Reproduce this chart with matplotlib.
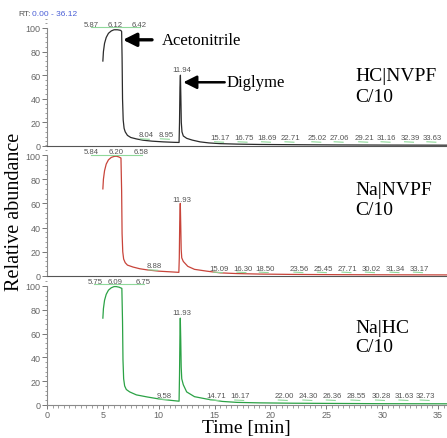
import matplotlib
matplotlib.use("Agg")
import matplotlib.pyplot as plt
from matplotlib.ticker import MultipleLocator

# ---- chromatogram traces (time in min, relative abundance in %) ----
top_t = [5.0, 5.05, 5.15, 5.3, 5.5, 5.75, 6.0, 6.3, 6.6, 6.68, 6.72, 6.76, 6.82, 6.9, 7.0, 7.2, 7.5, 8.0,
         8.6, 9.4, 10.4, 11.4, 11.82, 11.86, 11.9, 11.94, 11.98, 12.02, 12.08, 12.2, 12.5, 13.0, 13.7,
         14.5, 15.5, 17.0, 19.0, 22.0, 26.0, 30.0, 36.0]
top_y = [72, 80, 87, 92, 95.5, 97.5, 98.5, 98.5, 98, 97, 75, 40, 22, 15, 12, 9, 7.2, 6.0,
         4.9, 4.1, 3.5, 3.1, 3.0, 20, 50, 60, 42, 20, 12, 8.5, 6.5, 5.0, 3.5,
         2.6, 2.0, 1.6, 1.3, 1.1, 0.9, 0.8, 0.7]

mid_t = [5.0, 5.05, 5.15, 5.3, 5.5, 5.75, 6.0, 6.2, 6.4, 6.62, 6.68, 6.72, 6.78, 6.86, 7.0, 7.2, 7.7, 8.3,
         9.0, 10.0, 11.3, 11.8, 11.84, 11.88, 11.93, 11.97, 12.01, 12.06, 12.2, 12.6, 13.2, 14.3,
         15.5, 17.0, 19.0, 22.0, 26.0, 30.0, 36.0]
mid_y = [72, 80, 87, 92.5, 96, 98, 98.8, 99, 98.5, 97.5, 70, 35, 20, 14, 11, 9, 7.4, 6.0,
         5.0, 4.0, 3.3, 3.0, 15, 45, 60, 42, 22, 15, 12, 8, 5.5, 4.0,
         2.6, 2.0, 1.6, 1.3, 1.1, 1.0, 0.9]

bot_t = [5.0, 5.05, 5.15, 5.3, 5.5, 5.75, 6.0, 6.2, 6.45, 6.7, 6.76, 6.8, 6.86, 6.95, 7.1, 7.4, 8.0,
         9.0, 10.2, 11.6, 11.82, 11.86, 11.9, 11.93, 11.97, 12.01, 12.06, 12.2, 12.5, 13.2, 14.3,
         15.7, 17.0, 19.0, 22.0, 26.0, 30.0, 36.0]
bot_y = [73, 81, 88, 93, 96.5, 98.5, 99.5, 99.5, 99, 98, 70, 38, 22, 16, 13, 11, 8.5,
         6.7, 4.8, 3.4, 3.2, 25, 60, 73, 55, 32, 22, 17, 11, 7, 5.0,
         3.0, 2.2, 1.8, 1.5, 1.3, 1.1, 1.0]

# ---- peak labels (retention times) and where they are printed ----
top_hi = ["5.87", "6.12", "6.42"]
top_hi_x = [4.0, 6.1, 8.25]
top_lo = ["8.04", "8.95", "15.17", "16.75", "18.69", "22.71", "25.02", "27.06", "29.21", "31.16", "32.39", "33.63"]
top_lo_x = [8.85, 10.65, 15.5, 17.6, 19.7, 21.8, 24.2, 26.2, 28.4, 30.4, 32.5, 34.5]
top_lo_y = [9.5, 9.5, 7, 7, 7, 7, 7, 7, 7, 7, 7, 7]

mid_hi = ["5.84", "6.20", "6.58"]
mid_hi_x = [4.0, 6.2, 8.4]
mid_lo = ["8.88", "15.09", "16.30", "18.50", "23.56", "25.45", "27.71", "30.02", "31.34", "33.17"]
mid_lo_x = [9.6, 15.4, 17.5, 19.5, 22.6, 24.7, 26.9, 29.0, 31.2, 33.3]
mid_lo_y = [8.5, 6.6, 6.6, 6.6, 6.6, 6.6, 6.6, 6.6, 6.6, 6.6]

bot_hi = ["5.75", "6.09", "6.75"]
bot_hi_x = [4.3, 6.1, 8.6]
bot_lo = ["9.58", "14.71", "16.17", "22.00", "24.30", "26.36", "28.55", "30.28", "31.63", "32.73"]
bot_lo_x = [10.5, 15.1, 17.3, 21.2, 23.4, 25.5, 27.7, 29.9, 32.0, 33.9]
bot_lo_y = [8.4, 7.6, 7.6, 7.6, 7.6, 7.6, 7.6, 7.6, 7.6, 7.6]

spike_lab = ["11.94", "11.93", "11.93"]
spike_lab_y = [65, 63, 78]

samples = [("HC|NVPF", "C/10"), ("Na|NVPF", "C/10"), ("Na|HC", "C/10")]
sample_y = [(56, 38), (68, 51), (61, 45)]

colors = ["#2b2b2b", "#c8443a", "#2ba245"]
W, H = 447, 439

plt.rcParams["font.family"] = ["Liberation Sans", "DejaVu Sans"]
fig = plt.figure(figsize=(W / 100, H / 100), dpi=100)

# axes placed by pixel: (y pixel of 0 %, pixels per %)
panels = [(147, 1.18), (277, 1.21), (406, 1.19)]
x0_px, x1_px = 47, 447
xmax = 35.8
axes = []
for zero_px, ppu in panels:
    h = 108 * ppu
    ax = fig.add_axes([x0_px / W, (H - zero_px) / H, (x1_px - x0_px) / W, h / H])
    ax.set_xlim(0, xmax)
    ax.set_ylim(0, 108)
    ax.patch.set_alpha(0)
    for s in ["top", "right"]:
        ax.spines[s].set_visible(False)
    ax.spines["left"].set_color("#8a8a8a")
    ax.spines["bottom"].set_color("#555555")
    ax.spines["left"].set_bounds(0, 100)
    ax.yaxis.set_major_locator(MultipleLocator(20))
    ax.yaxis.set_minor_locator(MultipleLocator(4))
    ax.tick_params(axis="y", which="major", length=3.5, width=0.7, color="#777", labelsize=6.5,
                   labelcolor="#666", pad=1)
    ax.tick_params(axis="y", which="minor", length=1.8, width=0.5, color="#777")
    axes.append(ax)

for ax in axes[:2]:
    ax.tick_params(axis="x", which="both", bottom=False, labelbottom=False)

axb = axes[2]
axb.xaxis.set_major_locator(MultipleLocator(5))
axb.xaxis.set_minor_locator(MultipleLocator(0.5))
axb.tick_params(axis="x", which="major", length=3, width=0.7, color="#777", labelsize=6.5,
                labelcolor="#666", pad=0.8)
axb.tick_params(axis="x", which="minor", length=1.8, width=0.5, color="#777")
axb.spines["bottom"].set_color("#8a8a8a")

for ax, t, y, c in zip(axes, [top_t, mid_t, bot_t], [top_y, mid_y, bot_y], colors):
    ax.plot(t, y, color=c, lw=0.9, solid_joinstyle="round")

lab_kw = dict(fontsize=5.6, color="#555", ha="center", va="center")
green = "#8fd89a"
sets = [(top_hi, top_hi_x, top_lo, top_lo_x, top_lo_y),
        (mid_hi, mid_hi_x, mid_lo, mid_lo_x, mid_lo_y),
        (bot_hi, bot_hi_x, bot_lo, bot_lo_x, bot_lo_y)]
hi_y = [103, 102.5, 104]
for i, (ax, (hl, hx, ll, lx, ly)) in enumerate(zip(axes, sets)):
    ax.plot([hx[0] - 0.1, hx[-1] + 0.1], [hi_y[i] - 2.5, hi_y[i] - 2.5], color=green, lw=0.8, clip_on=False)
    for s, x in zip(hl, hx):
        ax.text(x, hi_y[i], s, clip_on=False, **lab_kw)
    for s, x, yy in zip(ll, lx, ly):
        ax.plot([x - 0.5, x + 0.3], [yy - 3.4, yy - 3.8], color=green, lw=0.8)
        ax.text(x, yy, s, **lab_kw)
    ax.text(12.05, spike_lab_y[i], spike_lab[i], **lab_kw)
    l1, l2 = samples[i]
    ax.text(27.6, sample_y[i][0], l1, fontsize=14, family="Liberation Serif", va="baseline")
    ax.text(27.6, sample_y[i][1], l2, fontsize=14, family="Liberation Serif", va="baseline")

# arrows on top panel
axt = axes[0]
axt.annotate("", xy=(6.8, 90), xytext=(9.4, 90),
             arrowprops=dict(arrowstyle="-|>", lw=2.4, mutation_scale=20, color="black",
                             shrinkA=0, shrinkB=0))
axt.text(10.3, 90, "Acetonitrile", fontsize=12, family="Liberation Serif", va="center")
axt.annotate("", xy=(12.2, 54), xytext=(15.9, 54),
             arrowprops=dict(arrowstyle="-|>", lw=1.8, mutation_scale=20, color="black",
                             shrinkA=0, shrinkB=0))
axt.text(16.1, 54, "Diglyme", fontsize=12, family="Liberation Serif", va="center")

fig.text(15 / W, 1 - 212 / H, "Relative abundance", rotation=90, fontsize=14.5,
         family="Liberation Serif", ha="center", va="center")
fig.text(246 / W, 1 - 433 / H, "Time [min]", fontsize=14, family="Liberation Serif",
         ha="center", va="baseline")
fig.text(18 / W, 1 - 15 / H, "RT:", fontsize=6, color="#555", va="center")
fig.text(32 / W, 1 - 15 / H, "0.00 - 36.12", fontsize=6, color="#4a5fd6", va="center")

fig.savefig("out.png", dpi=100)
